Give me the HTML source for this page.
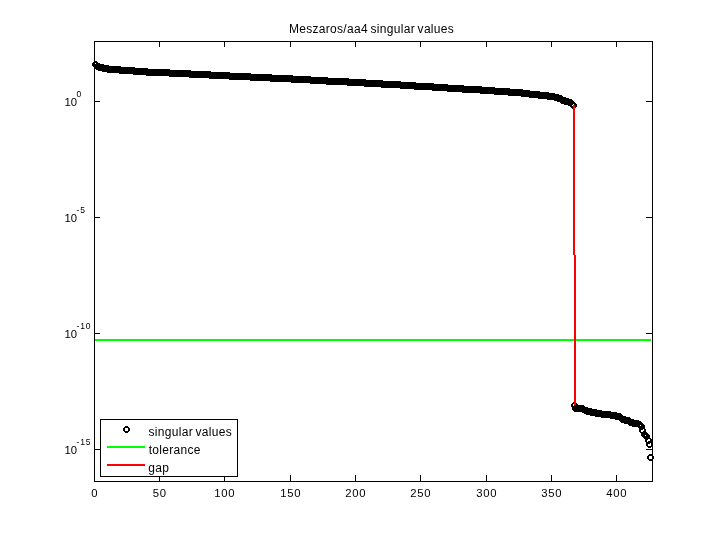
<!DOCTYPE html>
<html><head><meta charset="utf-8"><title>Meszaros/aa4 singular values</title>
<style>
html,body{margin:0;padding:0;background:#fff}
svg{display:block}
text{font-family:"Liberation Sans",Arial,Helvetica,sans-serif;font-size:12px;fill:#000;letter-spacing:0.3px}
text.ex{font-size:8.5px;letter-spacing:0.9px}
text.tk{font-size:11.3px;letter-spacing:0.7px}
.ax rect{fill:#000;shape-rendering:crispEdges}
.mk path{fill:#000;fill-rule:nonzero;shape-rendering:crispEdges}
</style></head><body>
<svg width="720" height="540" viewBox="0 0 720 540">
<rect x="0" y="0" width="720" height="540" fill="#fff"/>
<g class="ax">
<rect x="94" y="41" width="559" height="1"/><rect x="94" y="481" width="559" height="1"/>
<rect x="94" y="41" width="1" height="441"/><rect x="652" y="41" width="1" height="441"/>
<rect x="94" y="475" width="1" height="6"/><rect x="94" y="42" width="1" height="5"/><rect x="159" y="475" width="1" height="6"/><rect x="159" y="42" width="1" height="5"/><rect x="224" y="475" width="1" height="6"/><rect x="224" y="42" width="1" height="5"/><rect x="290" y="475" width="1" height="6"/><rect x="290" y="42" width="1" height="5"/><rect x="355" y="475" width="1" height="6"/><rect x="355" y="42" width="1" height="5"/><rect x="420" y="475" width="1" height="6"/><rect x="420" y="42" width="1" height="5"/><rect x="486" y="475" width="1" height="6"/><rect x="486" y="42" width="1" height="5"/><rect x="551" y="475" width="1" height="6"/><rect x="551" y="42" width="1" height="5"/><rect x="616" y="475" width="1" height="6"/><rect x="616" y="42" width="1" height="5"/><rect x="95" y="101" width="5" height="1"/><rect x="646" y="101" width="6" height="1"/><rect x="95" y="217" width="5" height="1"/><rect x="646" y="217" width="6" height="1"/><rect x="95" y="333" width="5" height="1"/><rect x="646" y="333" width="6" height="1"/><rect x="95" y="449" width="5" height="1"/><rect x="646" y="449" width="6" height="1"/>
</g>
<g class="mk"><path d="M94 61h3v1h1v1h1v3h-1v1h-1v1h-3v-1h-1v-1h-1v-3h1v-1h1zM94 63v3h3v-3zM96 63h3v1h1v1h1v3h-1v1h-1v1h-3v-1h-1v-1h-1v-3h1v-1h1zM96 65v3h3v-3zM97 63h3v1h1v1h1v3h-1v1h-1v1h-3v-1h-1v-1h-1v-3h1v-1h1zM97 65v3h3v-3zM98 64h3v1h1v1h1v3h-1v1h-1v1h-3v-1h-1v-1h-1v-3h1v-1h1zM98 66v3h3v-3zM99 64h3v1h1v1h1v3h-1v1h-1v1h-3v-1h-1v-1h-1v-3h1v-1h1zM99 66v3h3v-3zM101 64h3v1h1v1h1v3h-1v1h-1v1h-3v-1h-1v-1h-1v-3h1v-1h1zM101 66v3h3v-3zM102 65h3v1h1v1h1v3h-1v1h-1v1h-3v-1h-1v-1h-1v-3h1v-1h1zM102 67v3h3v-3zM103 65h3v1h1v1h1v3h-1v1h-1v1h-3v-1h-1v-1h-1v-3h1v-1h1zM103 67v3h3v-3zM105 65h3v1h1v1h1v3h-1v1h-1v1h-3v-1h-1v-1h-1v-3h1v-1h1zM105 67v3h3v-3zM106 65h3v1h1v1h1v3h-1v1h-1v1h-3v-1h-1v-1h-1v-3h1v-1h1zM106 67v3h3v-3zM107 66h3v1h1v1h1v3h-1v1h-1v1h-3v-1h-1v-1h-1v-3h1v-1h1zM107 68v3h3v-3zM109 66h3v1h1v1h1v3h-1v1h-1v1h-3v-1h-1v-1h-1v-3h1v-1h1zM109 68v3h3v-3zM110 66h3v1h1v1h1v3h-1v1h-1v1h-3v-1h-1v-1h-1v-3h1v-1h1zM110 68v3h3v-3zM111 66h3v1h1v1h1v3h-1v1h-1v1h-3v-1h-1v-1h-1v-3h1v-1h1zM111 68v3h3v-3zM112 66h3v1h1v1h1v3h-1v1h-1v1h-3v-1h-1v-1h-1v-3h1v-1h1zM112 68v3h3v-3zM114 66h3v1h1v1h1v3h-1v1h-1v1h-3v-1h-1v-1h-1v-3h1v-1h1zM114 68v3h3v-3zM115 66h3v1h1v1h1v3h-1v1h-1v1h-3v-1h-1v-1h-1v-3h1v-1h1zM115 68v3h3v-3zM116 66h3v1h1v1h1v3h-1v1h-1v1h-3v-1h-1v-1h-1v-3h1v-1h1zM116 68v3h3v-3zM118 66h3v1h1v1h1v3h-1v1h-1v1h-3v-1h-1v-1h-1v-3h1v-1h1zM118 68v3h3v-3zM119 67h3v1h1v1h1v3h-1v1h-1v1h-3v-1h-1v-1h-1v-3h1v-1h1zM119 69v3h3v-3zM120 67h3v1h1v1h1v3h-1v1h-1v1h-3v-1h-1v-1h-1v-3h1v-1h1zM120 69v3h3v-3zM122 67h3v1h1v1h1v3h-1v1h-1v1h-3v-1h-1v-1h-1v-3h1v-1h1zM122 69v3h3v-3zM123 67h3v1h1v1h1v3h-1v1h-1v1h-3v-1h-1v-1h-1v-3h1v-1h1zM123 69v3h3v-3zM124 67h3v1h1v1h1v3h-1v1h-1v1h-3v-1h-1v-1h-1v-3h1v-1h1zM124 69v3h3v-3zM126 67h3v1h1v1h1v3h-1v1h-1v1h-3v-1h-1v-1h-1v-3h1v-1h1zM126 69v3h3v-3zM127 67h3v1h1v1h1v3h-1v1h-1v1h-3v-1h-1v-1h-1v-3h1v-1h1zM127 69v3h3v-3zM128 67h3v1h1v1h1v3h-1v1h-1v1h-3v-1h-1v-1h-1v-3h1v-1h1zM128 69v3h3v-3zM129 67h3v1h1v1h1v3h-1v1h-1v1h-3v-1h-1v-1h-1v-3h1v-1h1zM129 69v3h3v-3zM131 67h3v1h1v1h1v3h-1v1h-1v1h-3v-1h-1v-1h-1v-3h1v-1h1zM131 69v3h3v-3zM132 67h3v1h1v1h1v3h-1v1h-1v1h-3v-1h-1v-1h-1v-3h1v-1h1zM132 69v3h3v-3zM133 68h3v1h1v1h1v3h-1v1h-1v1h-3v-1h-1v-1h-1v-3h1v-1h1zM133 70v3h3v-3zM135 68h3v1h1v1h1v3h-1v1h-1v1h-3v-1h-1v-1h-1v-3h1v-1h1zM135 70v3h3v-3zM136 68h3v1h1v1h1v3h-1v1h-1v1h-3v-1h-1v-1h-1v-3h1v-1h1zM136 70v3h3v-3zM137 68h3v1h1v1h1v3h-1v1h-1v1h-3v-1h-1v-1h-1v-3h1v-1h1zM137 70v3h3v-3zM139 68h3v1h1v1h1v3h-1v1h-1v1h-3v-1h-1v-1h-1v-3h1v-1h1zM139 70v3h3v-3zM140 68h3v1h1v1h1v3h-1v1h-1v1h-3v-1h-1v-1h-1v-3h1v-1h1zM140 70v3h3v-3zM141 68h3v1h1v1h1v3h-1v1h-1v1h-3v-1h-1v-1h-1v-3h1v-1h1zM141 70v3h3v-3zM142 68h3v1h1v1h1v3h-1v1h-1v1h-3v-1h-1v-1h-1v-3h1v-1h1zM142 70v3h3v-3zM144 68h3v1h1v1h1v3h-1v1h-1v1h-3v-1h-1v-1h-1v-3h1v-1h1zM144 70v3h3v-3zM145 68h3v1h1v1h1v3h-1v1h-1v1h-3v-1h-1v-1h-1v-3h1v-1h1zM145 70v3h3v-3zM146 69h3v1h1v1h1v3h-1v1h-1v1h-3v-1h-1v-1h-1v-3h1v-1h1zM146 71v3h3v-3zM148 69h3v1h1v1h1v3h-1v1h-1v1h-3v-1h-1v-1h-1v-3h1v-1h1zM148 71v3h3v-3zM149 69h3v1h1v1h1v3h-1v1h-1v1h-3v-1h-1v-1h-1v-3h1v-1h1zM149 71v3h3v-3zM150 69h3v1h1v1h1v3h-1v1h-1v1h-3v-1h-1v-1h-1v-3h1v-1h1zM150 71v3h3v-3zM152 69h3v1h1v1h1v3h-1v1h-1v1h-3v-1h-1v-1h-1v-3h1v-1h1zM152 71v3h3v-3zM153 69h3v1h1v1h1v3h-1v1h-1v1h-3v-1h-1v-1h-1v-3h1v-1h1zM153 71v3h3v-3zM154 69h3v1h1v1h1v3h-1v1h-1v1h-3v-1h-1v-1h-1v-3h1v-1h1zM154 71v3h3v-3zM156 69h3v1h1v1h1v3h-1v1h-1v1h-3v-1h-1v-1h-1v-3h1v-1h1zM156 71v3h3v-3zM157 69h3v1h1v1h1v3h-1v1h-1v1h-3v-1h-1v-1h-1v-3h1v-1h1zM157 71v3h3v-3zM158 69h3v1h1v1h1v3h-1v1h-1v1h-3v-1h-1v-1h-1v-3h1v-1h1zM158 71v3h3v-3zM159 69h3v1h1v1h1v3h-1v1h-1v1h-3v-1h-1v-1h-1v-3h1v-1h1zM159 71v3h3v-3zM161 69h3v1h1v1h1v3h-1v1h-1v1h-3v-1h-1v-1h-1v-3h1v-1h1zM161 71v3h3v-3zM162 69h3v1h1v1h1v3h-1v1h-1v1h-3v-1h-1v-1h-1v-3h1v-1h1zM162 71v3h3v-3zM163 69h3v1h1v1h1v3h-1v1h-1v1h-3v-1h-1v-1h-1v-3h1v-1h1zM163 71v3h3v-3zM165 69h3v1h1v1h1v3h-1v1h-1v1h-3v-1h-1v-1h-1v-3h1v-1h1zM165 71v3h3v-3zM166 69h3v1h1v1h1v3h-1v1h-1v1h-3v-1h-1v-1h-1v-3h1v-1h1zM166 71v3h3v-3zM167 69h3v1h1v1h1v3h-1v1h-1v1h-3v-1h-1v-1h-1v-3h1v-1h1zM167 71v3h3v-3zM169 70h3v1h1v1h1v3h-1v1h-1v1h-3v-1h-1v-1h-1v-3h1v-1h1zM169 72v3h3v-3zM170 70h3v1h1v1h1v3h-1v1h-1v1h-3v-1h-1v-1h-1v-3h1v-1h1zM170 72v3h3v-3zM171 70h3v1h1v1h1v3h-1v1h-1v1h-3v-1h-1v-1h-1v-3h1v-1h1zM171 72v3h3v-3zM173 70h3v1h1v1h1v3h-1v1h-1v1h-3v-1h-1v-1h-1v-3h1v-1h1zM173 72v3h3v-3zM174 70h3v1h1v1h1v3h-1v1h-1v1h-3v-1h-1v-1h-1v-3h1v-1h1zM174 72v3h3v-3zM175 70h3v1h1v1h1v3h-1v1h-1v1h-3v-1h-1v-1h-1v-3h1v-1h1zM175 72v3h3v-3zM176 70h3v1h1v1h1v3h-1v1h-1v1h-3v-1h-1v-1h-1v-3h1v-1h1zM176 72v3h3v-3zM178 70h3v1h1v1h1v3h-1v1h-1v1h-3v-1h-1v-1h-1v-3h1v-1h1zM178 72v3h3v-3zM179 70h3v1h1v1h1v3h-1v1h-1v1h-3v-1h-1v-1h-1v-3h1v-1h1zM179 72v3h3v-3zM180 70h3v1h1v1h1v3h-1v1h-1v1h-3v-1h-1v-1h-1v-3h1v-1h1zM180 72v3h3v-3zM182 70h3v1h1v1h1v3h-1v1h-1v1h-3v-1h-1v-1h-1v-3h1v-1h1zM182 72v3h3v-3zM183 70h3v1h1v1h1v3h-1v1h-1v1h-3v-1h-1v-1h-1v-3h1v-1h1zM183 72v3h3v-3zM184 70h3v1h1v1h1v3h-1v1h-1v1h-3v-1h-1v-1h-1v-3h1v-1h1zM184 72v3h3v-3zM186 70h3v1h1v1h1v3h-1v1h-1v1h-3v-1h-1v-1h-1v-3h1v-1h1zM186 72v3h3v-3zM187 70h3v1h1v1h1v3h-1v1h-1v1h-3v-1h-1v-1h-1v-3h1v-1h1zM187 72v3h3v-3zM188 70h3v1h1v1h1v3h-1v1h-1v1h-3v-1h-1v-1h-1v-3h1v-1h1zM188 72v3h3v-3zM189 71h3v1h1v1h1v3h-1v1h-1v1h-3v-1h-1v-1h-1v-3h1v-1h1zM189 73v3h3v-3zM191 71h3v1h1v1h1v3h-1v1h-1v1h-3v-1h-1v-1h-1v-3h1v-1h1zM191 73v3h3v-3zM192 71h3v1h1v1h1v3h-1v1h-1v1h-3v-1h-1v-1h-1v-3h1v-1h1zM192 73v3h3v-3zM193 71h3v1h1v1h1v3h-1v1h-1v1h-3v-1h-1v-1h-1v-3h1v-1h1zM193 73v3h3v-3zM195 71h3v1h1v1h1v3h-1v1h-1v1h-3v-1h-1v-1h-1v-3h1v-1h1zM195 73v3h3v-3zM196 71h3v1h1v1h1v3h-1v1h-1v1h-3v-1h-1v-1h-1v-3h1v-1h1zM196 73v3h3v-3zM197 71h3v1h1v1h1v3h-1v1h-1v1h-3v-1h-1v-1h-1v-3h1v-1h1zM197 73v3h3v-3zM199 71h3v1h1v1h1v3h-1v1h-1v1h-3v-1h-1v-1h-1v-3h1v-1h1zM199 73v3h3v-3zM200 71h3v1h1v1h1v3h-1v1h-1v1h-3v-1h-1v-1h-1v-3h1v-1h1zM200 73v3h3v-3zM201 71h3v1h1v1h1v3h-1v1h-1v1h-3v-1h-1v-1h-1v-3h1v-1h1zM201 73v3h3v-3zM203 71h3v1h1v1h1v3h-1v1h-1v1h-3v-1h-1v-1h-1v-3h1v-1h1zM203 73v3h3v-3zM204 71h3v1h1v1h1v3h-1v1h-1v1h-3v-1h-1v-1h-1v-3h1v-1h1zM204 73v3h3v-3zM205 71h3v1h1v1h1v3h-1v1h-1v1h-3v-1h-1v-1h-1v-3h1v-1h1zM205 73v3h3v-3zM206 71h3v1h1v1h1v3h-1v1h-1v1h-3v-1h-1v-1h-1v-3h1v-1h1zM206 73v3h3v-3zM208 71h3v1h1v1h1v3h-1v1h-1v1h-3v-1h-1v-1h-1v-3h1v-1h1zM208 73v3h3v-3zM209 72h3v1h1v1h1v3h-1v1h-1v1h-3v-1h-1v-1h-1v-3h1v-1h1zM209 74v3h3v-3zM210 72h3v1h1v1h1v3h-1v1h-1v1h-3v-1h-1v-1h-1v-3h1v-1h1zM210 74v3h3v-3zM212 72h3v1h1v1h1v3h-1v1h-1v1h-3v-1h-1v-1h-1v-3h1v-1h1zM212 74v3h3v-3zM213 72h3v1h1v1h1v3h-1v1h-1v1h-3v-1h-1v-1h-1v-3h1v-1h1zM213 74v3h3v-3zM214 72h3v1h1v1h1v3h-1v1h-1v1h-3v-1h-1v-1h-1v-3h1v-1h1zM214 74v3h3v-3zM216 72h3v1h1v1h1v3h-1v1h-1v1h-3v-1h-1v-1h-1v-3h1v-1h1zM216 74v3h3v-3zM217 72h3v1h1v1h1v3h-1v1h-1v1h-3v-1h-1v-1h-1v-3h1v-1h1zM217 74v3h3v-3zM218 72h3v1h1v1h1v3h-1v1h-1v1h-3v-1h-1v-1h-1v-3h1v-1h1zM218 74v3h3v-3zM219 72h3v1h1v1h1v3h-1v1h-1v1h-3v-1h-1v-1h-1v-3h1v-1h1zM219 74v3h3v-3zM221 72h3v1h1v1h1v3h-1v1h-1v1h-3v-1h-1v-1h-1v-3h1v-1h1zM221 74v3h3v-3zM222 72h3v1h1v1h1v3h-1v1h-1v1h-3v-1h-1v-1h-1v-3h1v-1h1zM222 74v3h3v-3zM223 72h3v1h1v1h1v3h-1v1h-1v1h-3v-1h-1v-1h-1v-3h1v-1h1zM223 74v3h3v-3zM225 72h3v1h1v1h1v3h-1v1h-1v1h-3v-1h-1v-1h-1v-3h1v-1h1zM225 74v3h3v-3zM226 72h3v1h1v1h1v3h-1v1h-1v1h-3v-1h-1v-1h-1v-3h1v-1h1zM226 74v3h3v-3zM227 72h3v1h1v1h1v3h-1v1h-1v1h-3v-1h-1v-1h-1v-3h1v-1h1zM227 74v3h3v-3zM229 73h3v1h1v1h1v3h-1v1h-1v1h-3v-1h-1v-1h-1v-3h1v-1h1zM229 75v3h3v-3zM230 73h3v1h1v1h1v3h-1v1h-1v1h-3v-1h-1v-1h-1v-3h1v-1h1zM230 75v3h3v-3zM231 73h3v1h1v1h1v3h-1v1h-1v1h-3v-1h-1v-1h-1v-3h1v-1h1zM231 75v3h3v-3zM233 73h3v1h1v1h1v3h-1v1h-1v1h-3v-1h-1v-1h-1v-3h1v-1h1zM233 75v3h3v-3zM234 73h3v1h1v1h1v3h-1v1h-1v1h-3v-1h-1v-1h-1v-3h1v-1h1zM234 75v3h3v-3zM235 73h3v1h1v1h1v3h-1v1h-1v1h-3v-1h-1v-1h-1v-3h1v-1h1zM235 75v3h3v-3zM236 73h3v1h1v1h1v3h-1v1h-1v1h-3v-1h-1v-1h-1v-3h1v-1h1zM236 75v3h3v-3zM238 73h3v1h1v1h1v3h-1v1h-1v1h-3v-1h-1v-1h-1v-3h1v-1h1zM238 75v3h3v-3zM239 73h3v1h1v1h1v3h-1v1h-1v1h-3v-1h-1v-1h-1v-3h1v-1h1zM239 75v3h3v-3zM240 73h3v1h1v1h1v3h-1v1h-1v1h-3v-1h-1v-1h-1v-3h1v-1h1zM240 75v3h3v-3zM242 73h3v1h1v1h1v3h-1v1h-1v1h-3v-1h-1v-1h-1v-3h1v-1h1zM242 75v3h3v-3zM243 73h3v1h1v1h1v3h-1v1h-1v1h-3v-1h-1v-1h-1v-3h1v-1h1zM243 75v3h3v-3zM244 73h3v1h1v1h1v3h-1v1h-1v1h-3v-1h-1v-1h-1v-3h1v-1h1zM244 75v3h3v-3zM246 73h3v1h1v1h1v3h-1v1h-1v1h-3v-1h-1v-1h-1v-3h1v-1h1zM246 75v3h3v-3zM247 73h3v1h1v1h1v3h-1v1h-1v1h-3v-1h-1v-1h-1v-3h1v-1h1zM247 75v3h3v-3zM248 73h3v1h1v1h1v3h-1v1h-1v1h-3v-1h-1v-1h-1v-3h1v-1h1zM248 75v3h3v-3zM250 74h3v1h1v1h1v3h-1v1h-1v1h-3v-1h-1v-1h-1v-3h1v-1h1zM250 76v3h3v-3zM251 74h3v1h1v1h1v3h-1v1h-1v1h-3v-1h-1v-1h-1v-3h1v-1h1zM251 76v3h3v-3zM252 74h3v1h1v1h1v3h-1v1h-1v1h-3v-1h-1v-1h-1v-3h1v-1h1zM252 76v3h3v-3zM253 74h3v1h1v1h1v3h-1v1h-1v1h-3v-1h-1v-1h-1v-3h1v-1h1zM253 76v3h3v-3zM255 74h3v1h1v1h1v3h-1v1h-1v1h-3v-1h-1v-1h-1v-3h1v-1h1zM255 76v3h3v-3zM256 74h3v1h1v1h1v3h-1v1h-1v1h-3v-1h-1v-1h-1v-3h1v-1h1zM256 76v3h3v-3zM257 74h3v1h1v1h1v3h-1v1h-1v1h-3v-1h-1v-1h-1v-3h1v-1h1zM257 76v3h3v-3zM259 74h3v1h1v1h1v3h-1v1h-1v1h-3v-1h-1v-1h-1v-3h1v-1h1zM259 76v3h3v-3zM260 74h3v1h1v1h1v3h-1v1h-1v1h-3v-1h-1v-1h-1v-3h1v-1h1zM260 76v3h3v-3zM261 74h3v1h1v1h1v3h-1v1h-1v1h-3v-1h-1v-1h-1v-3h1v-1h1zM261 76v3h3v-3zM263 74h3v1h1v1h1v3h-1v1h-1v1h-3v-1h-1v-1h-1v-3h1v-1h1zM263 76v3h3v-3zM264 74h3v1h1v1h1v3h-1v1h-1v1h-3v-1h-1v-1h-1v-3h1v-1h1zM264 76v3h3v-3zM265 74h3v1h1v1h1v3h-1v1h-1v1h-3v-1h-1v-1h-1v-3h1v-1h1zM265 76v3h3v-3zM266 74h3v1h1v1h1v3h-1v1h-1v1h-3v-1h-1v-1h-1v-3h1v-1h1zM266 76v3h3v-3zM268 74h3v1h1v1h1v3h-1v1h-1v1h-3v-1h-1v-1h-1v-3h1v-1h1zM268 76v3h3v-3zM269 74h3v1h1v1h1v3h-1v1h-1v1h-3v-1h-1v-1h-1v-3h1v-1h1zM269 76v3h3v-3zM270 75h3v1h1v1h1v3h-1v1h-1v1h-3v-1h-1v-1h-1v-3h1v-1h1zM270 77v3h3v-3zM272 75h3v1h1v1h1v3h-1v1h-1v1h-3v-1h-1v-1h-1v-3h1v-1h1zM272 77v3h3v-3zM273 75h3v1h1v1h1v3h-1v1h-1v1h-3v-1h-1v-1h-1v-3h1v-1h1zM273 77v3h3v-3zM274 75h3v1h1v1h1v3h-1v1h-1v1h-3v-1h-1v-1h-1v-3h1v-1h1zM274 77v3h3v-3zM276 75h3v1h1v1h1v3h-1v1h-1v1h-3v-1h-1v-1h-1v-3h1v-1h1zM276 77v3h3v-3zM277 75h3v1h1v1h1v3h-1v1h-1v1h-3v-1h-1v-1h-1v-3h1v-1h1zM277 77v3h3v-3zM278 75h3v1h1v1h1v3h-1v1h-1v1h-3v-1h-1v-1h-1v-3h1v-1h1zM278 77v3h3v-3zM280 75h3v1h1v1h1v3h-1v1h-1v1h-3v-1h-1v-1h-1v-3h1v-1h1zM280 77v3h3v-3zM281 75h3v1h1v1h1v3h-1v1h-1v1h-3v-1h-1v-1h-1v-3h1v-1h1zM281 77v3h3v-3zM282 75h3v1h1v1h1v3h-1v1h-1v1h-3v-1h-1v-1h-1v-3h1v-1h1zM282 77v3h3v-3zM283 75h3v1h1v1h1v3h-1v1h-1v1h-3v-1h-1v-1h-1v-3h1v-1h1zM283 77v3h3v-3zM285 75h3v1h1v1h1v3h-1v1h-1v1h-3v-1h-1v-1h-1v-3h1v-1h1zM285 77v3h3v-3zM286 75h3v1h1v1h1v3h-1v1h-1v1h-3v-1h-1v-1h-1v-3h1v-1h1zM286 77v3h3v-3zM287 75h3v1h1v1h1v3h-1v1h-1v1h-3v-1h-1v-1h-1v-3h1v-1h1zM287 77v3h3v-3zM289 75h3v1h1v1h1v3h-1v1h-1v1h-3v-1h-1v-1h-1v-3h1v-1h1zM289 77v3h3v-3zM290 75h3v1h1v1h1v3h-1v1h-1v1h-3v-1h-1v-1h-1v-3h1v-1h1zM290 77v3h3v-3zM291 76h3v1h1v1h1v3h-1v1h-1v1h-3v-1h-1v-1h-1v-3h1v-1h1zM291 78v3h3v-3zM293 76h3v1h1v1h1v3h-1v1h-1v1h-3v-1h-1v-1h-1v-3h1v-1h1zM293 78v3h3v-3zM294 76h3v1h1v1h1v3h-1v1h-1v1h-3v-1h-1v-1h-1v-3h1v-1h1zM294 78v3h3v-3zM295 76h3v1h1v1h1v3h-1v1h-1v1h-3v-1h-1v-1h-1v-3h1v-1h1zM295 78v3h3v-3zM296 76h3v1h1v1h1v3h-1v1h-1v1h-3v-1h-1v-1h-1v-3h1v-1h1zM296 78v3h3v-3zM298 76h3v1h1v1h1v3h-1v1h-1v1h-3v-1h-1v-1h-1v-3h1v-1h1zM298 78v3h3v-3zM299 76h3v1h1v1h1v3h-1v1h-1v1h-3v-1h-1v-1h-1v-3h1v-1h1zM299 78v3h3v-3zM300 76h3v1h1v1h1v3h-1v1h-1v1h-3v-1h-1v-1h-1v-3h1v-1h1zM300 78v3h3v-3zM302 76h3v1h1v1h1v3h-1v1h-1v1h-3v-1h-1v-1h-1v-3h1v-1h1zM302 78v3h3v-3zM303 76h3v1h1v1h1v3h-1v1h-1v1h-3v-1h-1v-1h-1v-3h1v-1h1zM303 78v3h3v-3zM304 76h3v1h1v1h1v3h-1v1h-1v1h-3v-1h-1v-1h-1v-3h1v-1h1zM304 78v3h3v-3zM306 76h3v1h1v1h1v3h-1v1h-1v1h-3v-1h-1v-1h-1v-3h1v-1h1zM306 78v3h3v-3zM307 76h3v1h1v1h1v3h-1v1h-1v1h-3v-1h-1v-1h-1v-3h1v-1h1zM307 78v3h3v-3zM308 76h3v1h1v1h1v3h-1v1h-1v1h-3v-1h-1v-1h-1v-3h1v-1h1zM308 78v3h3v-3zM310 77h3v1h1v1h1v3h-1v1h-1v1h-3v-1h-1v-1h-1v-3h1v-1h1zM310 79v3h3v-3zM311 77h3v1h1v1h1v3h-1v1h-1v1h-3v-1h-1v-1h-1v-3h1v-1h1zM311 79v3h3v-3zM312 77h3v1h1v1h1v3h-1v1h-1v1h-3v-1h-1v-1h-1v-3h1v-1h1zM312 79v3h3v-3zM313 77h3v1h1v1h1v3h-1v1h-1v1h-3v-1h-1v-1h-1v-3h1v-1h1zM313 79v3h3v-3zM315 77h3v1h1v1h1v3h-1v1h-1v1h-3v-1h-1v-1h-1v-3h1v-1h1zM315 79v3h3v-3zM316 77h3v1h1v1h1v3h-1v1h-1v1h-3v-1h-1v-1h-1v-3h1v-1h1zM316 79v3h3v-3zM317 77h3v1h1v1h1v3h-1v1h-1v1h-3v-1h-1v-1h-1v-3h1v-1h1zM317 79v3h3v-3zM319 77h3v1h1v1h1v3h-1v1h-1v1h-3v-1h-1v-1h-1v-3h1v-1h1zM319 79v3h3v-3zM320 77h3v1h1v1h1v3h-1v1h-1v1h-3v-1h-1v-1h-1v-3h1v-1h1zM320 79v3h3v-3zM321 77h3v1h1v1h1v3h-1v1h-1v1h-3v-1h-1v-1h-1v-3h1v-1h1zM321 79v3h3v-3zM323 77h3v1h1v1h1v3h-1v1h-1v1h-3v-1h-1v-1h-1v-3h1v-1h1zM323 79v3h3v-3zM324 77h3v1h1v1h1v3h-1v1h-1v1h-3v-1h-1v-1h-1v-3h1v-1h1zM324 79v3h3v-3zM325 77h3v1h1v1h1v3h-1v1h-1v1h-3v-1h-1v-1h-1v-3h1v-1h1zM325 79v3h3v-3zM326 78h3v1h1v1h1v3h-1v1h-1v1h-3v-1h-1v-1h-1v-3h1v-1h1zM326 80v3h3v-3zM328 78h3v1h1v1h1v3h-1v1h-1v1h-3v-1h-1v-1h-1v-3h1v-1h1zM328 80v3h3v-3zM329 78h3v1h1v1h1v3h-1v1h-1v1h-3v-1h-1v-1h-1v-3h1v-1h1zM329 80v3h3v-3zM330 78h3v1h1v1h1v3h-1v1h-1v1h-3v-1h-1v-1h-1v-3h1v-1h1zM330 80v3h3v-3zM332 78h3v1h1v1h1v3h-1v1h-1v1h-3v-1h-1v-1h-1v-3h1v-1h1zM332 80v3h3v-3zM333 78h3v1h1v1h1v3h-1v1h-1v1h-3v-1h-1v-1h-1v-3h1v-1h1zM333 80v3h3v-3zM334 78h3v1h1v1h1v3h-1v1h-1v1h-3v-1h-1v-1h-1v-3h1v-1h1zM334 80v3h3v-3zM336 78h3v1h1v1h1v3h-1v1h-1v1h-3v-1h-1v-1h-1v-3h1v-1h1zM336 80v3h3v-3zM337 78h3v1h1v1h1v3h-1v1h-1v1h-3v-1h-1v-1h-1v-3h1v-1h1zM337 80v3h3v-3zM338 78h3v1h1v1h1v3h-1v1h-1v1h-3v-1h-1v-1h-1v-3h1v-1h1zM338 80v3h3v-3zM340 78h3v1h1v1h1v3h-1v1h-1v1h-3v-1h-1v-1h-1v-3h1v-1h1zM340 80v3h3v-3zM341 78h3v1h1v1h1v3h-1v1h-1v1h-3v-1h-1v-1h-1v-3h1v-1h1zM341 80v3h3v-3zM342 78h3v1h1v1h1v3h-1v1h-1v1h-3v-1h-1v-1h-1v-3h1v-1h1zM342 80v3h3v-3zM343 78h3v1h1v1h1v3h-1v1h-1v1h-3v-1h-1v-1h-1v-3h1v-1h1zM343 80v3h3v-3zM345 78h3v1h1v1h1v3h-1v1h-1v1h-3v-1h-1v-1h-1v-3h1v-1h1zM345 80v3h3v-3zM346 78h3v1h1v1h1v3h-1v1h-1v1h-3v-1h-1v-1h-1v-3h1v-1h1zM346 80v3h3v-3zM347 79h3v1h1v1h1v3h-1v1h-1v1h-3v-1h-1v-1h-1v-3h1v-1h1zM347 81v3h3v-3zM349 79h3v1h1v1h1v3h-1v1h-1v1h-3v-1h-1v-1h-1v-3h1v-1h1zM349 81v3h3v-3zM350 79h3v1h1v1h1v3h-1v1h-1v1h-3v-1h-1v-1h-1v-3h1v-1h1zM350 81v3h3v-3zM351 79h3v1h1v1h1v3h-1v1h-1v1h-3v-1h-1v-1h-1v-3h1v-1h1zM351 81v3h3v-3zM353 79h3v1h1v1h1v3h-1v1h-1v1h-3v-1h-1v-1h-1v-3h1v-1h1zM353 81v3h3v-3zM354 79h3v1h1v1h1v3h-1v1h-1v1h-3v-1h-1v-1h-1v-3h1v-1h1zM354 81v3h3v-3zM355 79h3v1h1v1h1v3h-1v1h-1v1h-3v-1h-1v-1h-1v-3h1v-1h1zM355 81v3h3v-3zM357 79h3v1h1v1h1v3h-1v1h-1v1h-3v-1h-1v-1h-1v-3h1v-1h1zM357 81v3h3v-3zM358 79h3v1h1v1h1v3h-1v1h-1v1h-3v-1h-1v-1h-1v-3h1v-1h1zM358 81v3h3v-3zM359 79h3v1h1v1h1v3h-1v1h-1v1h-3v-1h-1v-1h-1v-3h1v-1h1zM359 81v3h3v-3zM360 79h3v1h1v1h1v3h-1v1h-1v1h-3v-1h-1v-1h-1v-3h1v-1h1zM360 81v3h3v-3zM362 79h3v1h1v1h1v3h-1v1h-1v1h-3v-1h-1v-1h-1v-3h1v-1h1zM362 81v3h3v-3zM363 79h3v1h1v1h1v3h-1v1h-1v1h-3v-1h-1v-1h-1v-3h1v-1h1zM363 81v3h3v-3zM364 80h3v1h1v1h1v3h-1v1h-1v1h-3v-1h-1v-1h-1v-3h1v-1h1zM364 82v3h3v-3zM366 80h3v1h1v1h1v3h-1v1h-1v1h-3v-1h-1v-1h-1v-3h1v-1h1zM366 82v3h3v-3zM367 80h3v1h1v1h1v3h-1v1h-1v1h-3v-1h-1v-1h-1v-3h1v-1h1zM367 82v3h3v-3zM368 80h3v1h1v1h1v3h-1v1h-1v1h-3v-1h-1v-1h-1v-3h1v-1h1zM368 82v3h3v-3zM370 80h3v1h1v1h1v3h-1v1h-1v1h-3v-1h-1v-1h-1v-3h1v-1h1zM370 82v3h3v-3zM371 80h3v1h1v1h1v3h-1v1h-1v1h-3v-1h-1v-1h-1v-3h1v-1h1zM371 82v3h3v-3zM372 80h3v1h1v1h1v3h-1v1h-1v1h-3v-1h-1v-1h-1v-3h1v-1h1zM372 82v3h3v-3zM373 80h3v1h1v1h1v3h-1v1h-1v1h-3v-1h-1v-1h-1v-3h1v-1h1zM373 82v3h3v-3zM375 80h3v1h1v1h1v3h-1v1h-1v1h-3v-1h-1v-1h-1v-3h1v-1h1zM375 82v3h3v-3zM376 80h3v1h1v1h1v3h-1v1h-1v1h-3v-1h-1v-1h-1v-3h1v-1h1zM376 82v3h3v-3zM377 80h3v1h1v1h1v3h-1v1h-1v1h-3v-1h-1v-1h-1v-3h1v-1h1zM377 82v3h3v-3zM379 80h3v1h1v1h1v3h-1v1h-1v1h-3v-1h-1v-1h-1v-3h1v-1h1zM379 82v3h3v-3zM380 80h3v1h1v1h1v3h-1v1h-1v1h-3v-1h-1v-1h-1v-3h1v-1h1zM380 82v3h3v-3zM381 81h3v1h1v1h1v3h-1v1h-1v1h-3v-1h-1v-1h-1v-3h1v-1h1zM381 83v3h3v-3zM383 81h3v1h1v1h1v3h-1v1h-1v1h-3v-1h-1v-1h-1v-3h1v-1h1zM383 83v3h3v-3zM384 81h3v1h1v1h1v3h-1v1h-1v1h-3v-1h-1v-1h-1v-3h1v-1h1zM384 83v3h3v-3zM385 81h3v1h1v1h1v3h-1v1h-1v1h-3v-1h-1v-1h-1v-3h1v-1h1zM385 83v3h3v-3zM387 81h3v1h1v1h1v3h-1v1h-1v1h-3v-1h-1v-1h-1v-3h1v-1h1zM387 83v3h3v-3zM388 81h3v1h1v1h1v3h-1v1h-1v1h-3v-1h-1v-1h-1v-3h1v-1h1zM388 83v3h3v-3zM389 81h3v1h1v1h1v3h-1v1h-1v1h-3v-1h-1v-1h-1v-3h1v-1h1zM389 83v3h3v-3zM390 81h3v1h1v1h1v3h-1v1h-1v1h-3v-1h-1v-1h-1v-3h1v-1h1zM390 83v3h3v-3zM392 81h3v1h1v1h1v3h-1v1h-1v1h-3v-1h-1v-1h-1v-3h1v-1h1zM392 83v3h3v-3zM393 81h3v1h1v1h1v3h-1v1h-1v1h-3v-1h-1v-1h-1v-3h1v-1h1zM393 83v3h3v-3zM394 81h3v1h1v1h1v3h-1v1h-1v1h-3v-1h-1v-1h-1v-3h1v-1h1zM394 83v3h3v-3zM396 81h3v1h1v1h1v3h-1v1h-1v1h-3v-1h-1v-1h-1v-3h1v-1h1zM396 83v3h3v-3zM397 81h3v1h1v1h1v3h-1v1h-1v1h-3v-1h-1v-1h-1v-3h1v-1h1zM397 83v3h3v-3zM398 81h3v1h1v1h1v3h-1v1h-1v1h-3v-1h-1v-1h-1v-3h1v-1h1zM398 83v3h3v-3zM400 82h3v1h1v1h1v3h-1v1h-1v1h-3v-1h-1v-1h-1v-3h1v-1h1zM400 84v3h3v-3zM401 82h3v1h1v1h1v3h-1v1h-1v1h-3v-1h-1v-1h-1v-3h1v-1h1zM401 84v3h3v-3zM402 82h3v1h1v1h1v3h-1v1h-1v1h-3v-1h-1v-1h-1v-3h1v-1h1zM402 84v3h3v-3zM403 82h3v1h1v1h1v3h-1v1h-1v1h-3v-1h-1v-1h-1v-3h1v-1h1zM403 84v3h3v-3zM405 82h3v1h1v1h1v3h-1v1h-1v1h-3v-1h-1v-1h-1v-3h1v-1h1zM405 84v3h3v-3zM406 82h3v1h1v1h1v3h-1v1h-1v1h-3v-1h-1v-1h-1v-3h1v-1h1zM406 84v3h3v-3zM407 82h3v1h1v1h1v3h-1v1h-1v1h-3v-1h-1v-1h-1v-3h1v-1h1zM407 84v3h3v-3zM409 82h3v1h1v1h1v3h-1v1h-1v1h-3v-1h-1v-1h-1v-3h1v-1h1zM409 84v3h3v-3zM410 82h3v1h1v1h1v3h-1v1h-1v1h-3v-1h-1v-1h-1v-3h1v-1h1zM410 84v3h3v-3zM411 82h3v1h1v1h1v3h-1v1h-1v1h-3v-1h-1v-1h-1v-3h1v-1h1zM411 84v3h3v-3zM413 82h3v1h1v1h1v3h-1v1h-1v1h-3v-1h-1v-1h-1v-3h1v-1h1zM413 84v3h3v-3zM414 83h3v1h1v1h1v3h-1v1h-1v1h-3v-1h-1v-1h-1v-3h1v-1h1zM414 85v3h3v-3zM415 83h3v1h1v1h1v3h-1v1h-1v1h-3v-1h-1v-1h-1v-3h1v-1h1zM415 85v3h3v-3zM417 83h3v1h1v1h1v3h-1v1h-1v1h-3v-1h-1v-1h-1v-3h1v-1h1zM417 85v3h3v-3zM418 83h3v1h1v1h1v3h-1v1h-1v1h-3v-1h-1v-1h-1v-3h1v-1h1zM418 85v3h3v-3zM419 83h3v1h1v1h1v3h-1v1h-1v1h-3v-1h-1v-1h-1v-3h1v-1h1zM419 85v3h3v-3zM420 83h3v1h1v1h1v3h-1v1h-1v1h-3v-1h-1v-1h-1v-3h1v-1h1zM420 85v3h3v-3zM422 83h3v1h1v1h1v3h-1v1h-1v1h-3v-1h-1v-1h-1v-3h1v-1h1zM422 85v3h3v-3zM423 83h3v1h1v1h1v3h-1v1h-1v1h-3v-1h-1v-1h-1v-3h1v-1h1zM423 85v3h3v-3zM424 83h3v1h1v1h1v3h-1v1h-1v1h-3v-1h-1v-1h-1v-3h1v-1h1zM424 85v3h3v-3zM426 83h3v1h1v1h1v3h-1v1h-1v1h-3v-1h-1v-1h-1v-3h1v-1h1zM426 85v3h3v-3zM427 83h3v1h1v1h1v3h-1v1h-1v1h-3v-1h-1v-1h-1v-3h1v-1h1zM427 85v3h3v-3zM428 83h3v1h1v1h1v3h-1v1h-1v1h-3v-1h-1v-1h-1v-3h1v-1h1zM428 85v3h3v-3zM430 83h3v1h1v1h1v3h-1v1h-1v1h-3v-1h-1v-1h-1v-3h1v-1h1zM430 85v3h3v-3zM431 83h3v1h1v1h1v3h-1v1h-1v1h-3v-1h-1v-1h-1v-3h1v-1h1zM431 85v3h3v-3zM432 84h3v1h1v1h1v3h-1v1h-1v1h-3v-1h-1v-1h-1v-3h1v-1h1zM432 86v3h3v-3zM434 84h3v1h1v1h1v3h-1v1h-1v1h-3v-1h-1v-1h-1v-3h1v-1h1zM434 86v3h3v-3zM435 84h3v1h1v1h1v3h-1v1h-1v1h-3v-1h-1v-1h-1v-3h1v-1h1zM435 86v3h3v-3zM436 84h3v1h1v1h1v3h-1v1h-1v1h-3v-1h-1v-1h-1v-3h1v-1h1zM436 86v3h3v-3zM437 84h3v1h1v1h1v3h-1v1h-1v1h-3v-1h-1v-1h-1v-3h1v-1h1zM437 86v3h3v-3zM439 84h3v1h1v1h1v3h-1v1h-1v1h-3v-1h-1v-1h-1v-3h1v-1h1zM439 86v3h3v-3zM440 84h3v1h1v1h1v3h-1v1h-1v1h-3v-1h-1v-1h-1v-3h1v-1h1zM440 86v3h3v-3zM441 84h3v1h1v1h1v3h-1v1h-1v1h-3v-1h-1v-1h-1v-3h1v-1h1zM441 86v3h3v-3zM443 84h3v1h1v1h1v3h-1v1h-1v1h-3v-1h-1v-1h-1v-3h1v-1h1zM443 86v3h3v-3zM444 84h3v1h1v1h1v3h-1v1h-1v1h-3v-1h-1v-1h-1v-3h1v-1h1zM444 86v3h3v-3zM445 84h3v1h1v1h1v3h-1v1h-1v1h-3v-1h-1v-1h-1v-3h1v-1h1zM445 86v3h3v-3zM447 85h3v1h1v1h1v3h-1v1h-1v1h-3v-1h-1v-1h-1v-3h1v-1h1zM447 87v3h3v-3zM448 85h3v1h1v1h1v3h-1v1h-1v1h-3v-1h-1v-1h-1v-3h1v-1h1zM448 87v3h3v-3zM449 85h3v1h1v1h1v3h-1v1h-1v1h-3v-1h-1v-1h-1v-3h1v-1h1zM449 87v3h3v-3zM450 85h3v1h1v1h1v3h-1v1h-1v1h-3v-1h-1v-1h-1v-3h1v-1h1zM450 87v3h3v-3zM452 85h3v1h1v1h1v3h-1v1h-1v1h-3v-1h-1v-1h-1v-3h1v-1h1zM452 87v3h3v-3zM453 85h3v1h1v1h1v3h-1v1h-1v1h-3v-1h-1v-1h-1v-3h1v-1h1zM453 87v3h3v-3zM454 85h3v1h1v1h1v3h-1v1h-1v1h-3v-1h-1v-1h-1v-3h1v-1h1zM454 87v3h3v-3zM456 85h3v1h1v1h1v3h-1v1h-1v1h-3v-1h-1v-1h-1v-3h1v-1h1zM456 87v3h3v-3zM457 85h3v1h1v1h1v3h-1v1h-1v1h-3v-1h-1v-1h-1v-3h1v-1h1zM457 87v3h3v-3zM458 85h3v1h1v1h1v3h-1v1h-1v1h-3v-1h-1v-1h-1v-3h1v-1h1zM458 87v3h3v-3zM460 85h3v1h1v1h1v3h-1v1h-1v1h-3v-1h-1v-1h-1v-3h1v-1h1zM460 87v3h3v-3zM461 85h3v1h1v1h1v3h-1v1h-1v1h-3v-1h-1v-1h-1v-3h1v-1h1zM461 87v3h3v-3zM462 86h3v1h1v1h1v3h-1v1h-1v1h-3v-1h-1v-1h-1v-3h1v-1h1zM462 88v3h3v-3zM464 86h3v1h1v1h1v3h-1v1h-1v1h-3v-1h-1v-1h-1v-3h1v-1h1zM464 88v3h3v-3zM465 86h3v1h1v1h1v3h-1v1h-1v1h-3v-1h-1v-1h-1v-3h1v-1h1zM465 88v3h3v-3zM466 86h3v1h1v1h1v3h-1v1h-1v1h-3v-1h-1v-1h-1v-3h1v-1h1zM466 88v3h3v-3zM467 86h3v1h1v1h1v3h-1v1h-1v1h-3v-1h-1v-1h-1v-3h1v-1h1zM467 88v3h3v-3zM469 86h3v1h1v1h1v3h-1v1h-1v1h-3v-1h-1v-1h-1v-3h1v-1h1zM469 88v3h3v-3zM470 86h3v1h1v1h1v3h-1v1h-1v1h-3v-1h-1v-1h-1v-3h1v-1h1zM470 88v3h3v-3zM471 86h3v1h1v1h1v3h-1v1h-1v1h-3v-1h-1v-1h-1v-3h1v-1h1zM471 88v3h3v-3zM473 86h3v1h1v1h1v3h-1v1h-1v1h-3v-1h-1v-1h-1v-3h1v-1h1zM473 88v3h3v-3zM474 86h3v1h1v1h1v3h-1v1h-1v1h-3v-1h-1v-1h-1v-3h1v-1h1zM474 88v3h3v-3zM475 86h3v1h1v1h1v3h-1v1h-1v1h-3v-1h-1v-1h-1v-3h1v-1h1zM475 88v3h3v-3zM477 86h3v1h1v1h1v3h-1v1h-1v1h-3v-1h-1v-1h-1v-3h1v-1h1zM477 88v3h3v-3zM478 86h3v1h1v1h1v3h-1v1h-1v1h-3v-1h-1v-1h-1v-3h1v-1h1zM478 88v3h3v-3zM479 86h3v1h1v1h1v3h-1v1h-1v1h-3v-1h-1v-1h-1v-3h1v-1h1zM479 88v3h3v-3zM480 87h3v1h1v1h1v3h-1v1h-1v1h-3v-1h-1v-1h-1v-3h1v-1h1zM480 89v3h3v-3zM482 87h3v1h1v1h1v3h-1v1h-1v1h-3v-1h-1v-1h-1v-3h1v-1h1zM482 89v3h3v-3zM483 87h3v1h1v1h1v3h-1v1h-1v1h-3v-1h-1v-1h-1v-3h1v-1h1zM483 89v3h3v-3zM484 87h3v1h1v1h1v3h-1v1h-1v1h-3v-1h-1v-1h-1v-3h1v-1h1zM484 89v3h3v-3zM486 87h3v1h1v1h1v3h-1v1h-1v1h-3v-1h-1v-1h-1v-3h1v-1h1zM486 89v3h3v-3zM487 87h3v1h1v1h1v3h-1v1h-1v1h-3v-1h-1v-1h-1v-3h1v-1h1zM487 89v3h3v-3zM488 87h3v1h1v1h1v3h-1v1h-1v1h-3v-1h-1v-1h-1v-3h1v-1h1zM488 89v3h3v-3zM490 87h3v1h1v1h1v3h-1v1h-1v1h-3v-1h-1v-1h-1v-3h1v-1h1zM490 89v3h3v-3zM491 87h3v1h1v1h1v3h-1v1h-1v1h-3v-1h-1v-1h-1v-3h1v-1h1zM491 89v3h3v-3zM492 87h3v1h1v1h1v3h-1v1h-1v1h-3v-1h-1v-1h-1v-3h1v-1h1zM492 89v3h3v-3zM494 88h3v1h1v1h1v3h-1v1h-1v1h-3v-1h-1v-1h-1v-3h1v-1h1zM494 90v3h3v-3zM495 88h3v1h1v1h1v3h-1v1h-1v1h-3v-1h-1v-1h-1v-3h1v-1h1zM495 90v3h3v-3zM496 88h3v1h1v1h1v3h-1v1h-1v1h-3v-1h-1v-1h-1v-3h1v-1h1zM496 90v3h3v-3zM497 88h3v1h1v1h1v3h-1v1h-1v1h-3v-1h-1v-1h-1v-3h1v-1h1zM497 90v3h3v-3zM499 88h3v1h1v1h1v3h-1v1h-1v1h-3v-1h-1v-1h-1v-3h1v-1h1zM499 90v3h3v-3zM500 88h3v1h1v1h1v3h-1v1h-1v1h-3v-1h-1v-1h-1v-3h1v-1h1zM500 90v3h3v-3zM501 88h3v1h1v1h1v3h-1v1h-1v1h-3v-1h-1v-1h-1v-3h1v-1h1zM501 90v3h3v-3zM503 88h3v1h1v1h1v3h-1v1h-1v1h-3v-1h-1v-1h-1v-3h1v-1h1zM503 90v3h3v-3zM504 88h3v1h1v1h1v3h-1v1h-1v1h-3v-1h-1v-1h-1v-3h1v-1h1zM504 90v3h3v-3zM505 88h3v1h1v1h1v3h-1v1h-1v1h-3v-1h-1v-1h-1v-3h1v-1h1zM505 90v3h3v-3zM507 88h3v1h1v1h1v3h-1v1h-1v1h-3v-1h-1v-1h-1v-3h1v-1h1zM507 90v3h3v-3zM508 89h3v1h1v1h1v3h-1v1h-1v1h-3v-1h-1v-1h-1v-3h1v-1h1zM508 91v3h3v-3zM509 89h3v1h1v1h1v3h-1v1h-1v1h-3v-1h-1v-1h-1v-3h1v-1h1zM509 91v3h3v-3zM511 89h3v1h1v1h1v3h-1v1h-1v1h-3v-1h-1v-1h-1v-3h1v-1h1zM511 91v3h3v-3zM512 89h3v1h1v1h1v3h-1v1h-1v1h-3v-1h-1v-1h-1v-3h1v-1h1zM512 91v3h3v-3zM513 89h3v1h1v1h1v3h-1v1h-1v1h-3v-1h-1v-1h-1v-3h1v-1h1zM513 91v3h3v-3zM514 89h3v1h1v1h1v3h-1v1h-1v1h-3v-1h-1v-1h-1v-3h1v-1h1zM514 91v3h3v-3zM516 89h3v1h1v1h1v3h-1v1h-1v1h-3v-1h-1v-1h-1v-3h1v-1h1zM516 91v3h3v-3zM517 89h3v1h1v1h1v3h-1v1h-1v1h-3v-1h-1v-1h-1v-3h1v-1h1zM517 91v3h3v-3zM518 89h3v1h1v1h1v3h-1v1h-1v1h-3v-1h-1v-1h-1v-3h1v-1h1zM518 91v3h3v-3zM520 89h3v1h1v1h1v3h-1v1h-1v1h-3v-1h-1v-1h-1v-3h1v-1h1zM520 91v3h3v-3zM521 90h3v1h1v1h1v3h-1v1h-1v1h-3v-1h-1v-1h-1v-3h1v-1h1zM521 92v3h3v-3zM522 90h3v1h1v1h1v3h-1v1h-1v1h-3v-1h-1v-1h-1v-3h1v-1h1zM522 92v3h3v-3zM524 90h3v1h1v1h1v3h-1v1h-1v1h-3v-1h-1v-1h-1v-3h1v-1h1zM524 92v3h3v-3zM525 90h3v1h1v1h1v3h-1v1h-1v1h-3v-1h-1v-1h-1v-3h1v-1h1zM525 92v3h3v-3zM526 90h3v1h1v1h1v3h-1v1h-1v1h-3v-1h-1v-1h-1v-3h1v-1h1zM526 92v3h3v-3zM527 90h3v1h1v1h1v3h-1v1h-1v1h-3v-1h-1v-1h-1v-3h1v-1h1zM527 92v3h3v-3zM529 91h3v1h1v1h1v3h-1v1h-1v1h-3v-1h-1v-1h-1v-3h1v-1h1zM529 93v3h3v-3zM530 91h3v1h1v1h1v3h-1v1h-1v1h-3v-1h-1v-1h-1v-3h1v-1h1zM530 93v3h3v-3zM531 91h3v1h1v1h1v3h-1v1h-1v1h-3v-1h-1v-1h-1v-3h1v-1h1zM531 93v3h3v-3zM533 91h3v1h1v1h1v3h-1v1h-1v1h-3v-1h-1v-1h-1v-3h1v-1h1zM533 93v3h3v-3zM534 91h3v1h1v1h1v3h-1v1h-1v1h-3v-1h-1v-1h-1v-3h1v-1h1zM534 93v3h3v-3zM535 91h3v1h1v1h1v3h-1v1h-1v1h-3v-1h-1v-1h-1v-3h1v-1h1zM535 93v3h3v-3zM537 91h3v1h1v1h1v3h-1v1h-1v1h-3v-1h-1v-1h-1v-3h1v-1h1zM537 93v3h3v-3zM538 92h3v1h1v1h1v3h-1v1h-1v1h-3v-1h-1v-1h-1v-3h1v-1h1zM538 94v3h3v-3zM539 92h3v1h1v1h1v3h-1v1h-1v1h-3v-1h-1v-1h-1v-3h1v-1h1zM539 94v3h3v-3zM541 92h3v1h1v1h1v3h-1v1h-1v1h-3v-1h-1v-1h-1v-3h1v-1h1zM541 94v3h3v-3zM542 92h3v1h1v1h1v3h-1v1h-1v1h-3v-1h-1v-1h-1v-3h1v-1h1zM542 94v3h3v-3zM543 92h3v1h1v1h1v3h-1v1h-1v1h-3v-1h-1v-1h-1v-3h1v-1h1zM543 94v3h3v-3zM544 92h3v1h1v1h1v3h-1v1h-1v1h-3v-1h-1v-1h-1v-3h1v-1h1zM544 94v3h3v-3zM546 92h3v1h1v1h1v3h-1v1h-1v1h-3v-1h-1v-1h-1v-3h1v-1h1zM546 94v3h3v-3zM547 93h3v1h1v1h1v3h-1v1h-1v1h-3v-1h-1v-1h-1v-3h1v-1h1zM547 95v3h3v-3zM548 93h3v1h1v1h1v3h-1v1h-1v1h-3v-1h-1v-1h-1v-3h1v-1h1zM548 95v3h3v-3zM550 93h3v1h1v1h1v3h-1v1h-1v1h-3v-1h-1v-1h-1v-3h1v-1h1zM550 95v3h3v-3zM551 93h3v1h1v1h1v3h-1v1h-1v1h-3v-1h-1v-1h-1v-3h1v-1h1zM551 95v3h3v-3zM552 93h3v1h1v1h1v3h-1v1h-1v1h-3v-1h-1v-1h-1v-3h1v-1h1zM552 95v3h3v-3zM554 94h3v1h1v1h1v3h-1v1h-1v1h-3v-1h-1v-1h-1v-3h1v-1h1zM554 96v3h3v-3zM555 94h3v1h1v1h1v3h-1v1h-1v1h-3v-1h-1v-1h-1v-3h1v-1h1zM555 96v3h3v-3zM556 94h3v1h1v1h1v3h-1v1h-1v1h-3v-1h-1v-1h-1v-3h1v-1h1zM556 96v3h3v-3zM557 95h3v1h1v1h1v3h-1v1h-1v1h-3v-1h-1v-1h-1v-3h1v-1h1zM557 97v3h3v-3zM559 95h3v1h1v1h1v3h-1v1h-1v1h-3v-1h-1v-1h-1v-3h1v-1h1zM559 97v3h3v-3zM560 96h3v1h1v1h1v3h-1v1h-1v1h-3v-1h-1v-1h-1v-3h1v-1h1zM560 98v3h3v-3zM561 97h3v1h1v1h1v3h-1v1h-1v1h-3v-1h-1v-1h-1v-3h1v-1h1zM561 99v3h3v-3zM563 97h3v1h1v1h1v3h-1v1h-1v1h-3v-1h-1v-1h-1v-3h1v-1h1zM563 99v3h3v-3zM564 98h3v1h1v1h1v3h-1v1h-1v1h-3v-1h-1v-1h-1v-3h1v-1h1zM564 100v3h3v-3zM565 98h3v1h1v1h1v3h-1v1h-1v1h-3v-1h-1v-1h-1v-3h1v-1h1zM565 100v3h3v-3zM566 98h3v1h1v1h1v3h-1v1h-1v1h-3v-1h-1v-1h-1v-3h1v-1h1zM566 100v3h3v-3zM568 99h3v1h1v1h1v3h-1v1h-1v1h-3v-1h-1v-1h-1v-3h1v-1h1zM568 101v3h3v-3zM569 99h3v1h1v1h1v3h-1v1h-1v1h-3v-1h-1v-1h-1v-3h1v-1h1zM569 101v3h3v-3zM571 101h3v1h1v1h1v3h-1v1h-1v1h-3v-1h-1v-1h-1v-3h1v-1h1zM571 103v3h3v-3zM572 102h3v1h1v1h1v3h-1v1h-1v1h-3v-1h-1v-1h-1v-3h1v-1h1zM572 104v3h3v-3zM573 402h3v1h1v1h1v3h-1v1h-1v1h-3v-1h-1v-1h-1v-3h1v-1h1zM573 404v3h3v-3zM574 405h3v1h1v1h1v3h-1v1h-1v1h-3v-1h-1v-1h-1v-3h1v-1h1zM574 407v3h3v-3zM576 405h3v1h1v1h1v3h-1v1h-1v1h-3v-1h-1v-1h-1v-3h1v-1h1zM576 407v3h3v-3zM577 405h3v1h1v1h1v3h-1v1h-1v1h-3v-1h-1v-1h-1v-3h1v-1h1zM577 407v3h3v-3zM578 405h3v1h1v1h1v3h-1v1h-1v1h-3v-1h-1v-1h-1v-3h1v-1h1zM578 407v3h3v-3zM580 405h3v1h1v1h1v3h-1v1h-1v1h-3v-1h-1v-1h-1v-3h1v-1h1zM580 407v3h3v-3zM581 405h3v1h1v1h1v3h-1v1h-1v1h-3v-1h-1v-1h-1v-3h1v-1h1zM581 407v3h3v-3zM582 406h3v1h1v1h1v3h-1v1h-1v1h-3v-1h-1v-1h-1v-3h1v-1h1zM582 408v3h3v-3zM584 407h3v1h1v1h1v3h-1v1h-1v1h-3v-1h-1v-1h-1v-3h1v-1h1zM584 409v3h3v-3zM585 407h3v1h1v1h1v3h-1v1h-1v1h-3v-1h-1v-1h-1v-3h1v-1h1zM585 409v3h3v-3zM586 408h3v1h1v1h1v3h-1v1h-1v1h-3v-1h-1v-1h-1v-3h1v-1h1zM586 410v3h3v-3zM587 408h3v1h1v1h1v3h-1v1h-1v1h-3v-1h-1v-1h-1v-3h1v-1h1zM587 410v3h3v-3zM589 408h3v1h1v1h1v3h-1v1h-1v1h-3v-1h-1v-1h-1v-3h1v-1h1zM589 410v3h3v-3zM590 409h3v1h1v1h1v3h-1v1h-1v1h-3v-1h-1v-1h-1v-3h1v-1h1zM590 411v3h3v-3zM591 409h3v1h1v1h1v3h-1v1h-1v1h-3v-1h-1v-1h-1v-3h1v-1h1zM591 411v3h3v-3zM593 409h3v1h1v1h1v3h-1v1h-1v1h-3v-1h-1v-1h-1v-3h1v-1h1zM593 411v3h3v-3zM594 409h3v1h1v1h1v3h-1v1h-1v1h-3v-1h-1v-1h-1v-3h1v-1h1zM594 411v3h3v-3zM595 410h3v1h1v1h1v3h-1v1h-1v1h-3v-1h-1v-1h-1v-3h1v-1h1zM595 412v3h3v-3zM597 410h3v1h1v1h1v3h-1v1h-1v1h-3v-1h-1v-1h-1v-3h1v-1h1zM597 412v3h3v-3zM598 410h3v1h1v1h1v3h-1v1h-1v1h-3v-1h-1v-1h-1v-3h1v-1h1zM598 412v3h3v-3zM599 410h3v1h1v1h1v3h-1v1h-1v1h-3v-1h-1v-1h-1v-3h1v-1h1zM599 412v3h3v-3zM601 411h3v1h1v1h1v3h-1v1h-1v1h-3v-1h-1v-1h-1v-3h1v-1h1zM601 413v3h3v-3zM602 411h3v1h1v1h1v3h-1v1h-1v1h-3v-1h-1v-1h-1v-3h1v-1h1zM602 413v3h3v-3zM603 411h3v1h1v1h1v3h-1v1h-1v1h-3v-1h-1v-1h-1v-3h1v-1h1zM603 413v3h3v-3zM604 411h3v1h1v1h1v3h-1v1h-1v1h-3v-1h-1v-1h-1v-3h1v-1h1zM604 413v3h3v-3zM606 411h3v1h1v1h1v3h-1v1h-1v1h-3v-1h-1v-1h-1v-3h1v-1h1zM606 413v3h3v-3zM607 411h3v1h1v1h1v3h-1v1h-1v1h-3v-1h-1v-1h-1v-3h1v-1h1zM607 413v3h3v-3zM608 411h3v1h1v1h1v3h-1v1h-1v1h-3v-1h-1v-1h-1v-3h1v-1h1zM608 413v3h3v-3zM610 412h3v1h1v1h1v3h-1v1h-1v1h-3v-1h-1v-1h-1v-3h1v-1h1zM610 414v3h3v-3zM611 412h3v1h1v1h1v3h-1v1h-1v1h-3v-1h-1v-1h-1v-3h1v-1h1zM611 414v3h3v-3zM612 412h3v1h1v1h1v3h-1v1h-1v1h-3v-1h-1v-1h-1v-3h1v-1h1zM612 414v3h3v-3zM614 412h3v1h1v1h1v3h-1v1h-1v1h-3v-1h-1v-1h-1v-3h1v-1h1zM614 414v3h3v-3zM615 413h3v1h1v1h1v3h-1v1h-1v1h-3v-1h-1v-1h-1v-3h1v-1h1zM615 415v3h3v-3zM616 413h3v1h1v1h1v3h-1v1h-1v1h-3v-1h-1v-1h-1v-3h1v-1h1zM616 415v3h3v-3zM618 413h3v1h1v1h1v3h-1v1h-1v1h-3v-1h-1v-1h-1v-3h1v-1h1zM618 415v3h3v-3zM619 414h3v1h1v1h1v3h-1v1h-1v1h-3v-1h-1v-1h-1v-3h1v-1h1zM619 416v3h3v-3zM620 415h3v1h1v1h1v3h-1v1h-1v1h-3v-1h-1v-1h-1v-3h1v-1h1zM620 417v3h3v-3zM621 416h3v1h1v1h1v3h-1v1h-1v1h-3v-1h-1v-1h-1v-3h1v-1h1zM621 418v3h3v-3zM623 416h3v1h1v1h1v3h-1v1h-1v1h-3v-1h-1v-1h-1v-3h1v-1h1zM623 418v3h3v-3zM624 417h3v1h1v1h1v3h-1v1h-1v1h-3v-1h-1v-1h-1v-3h1v-1h1zM624 419v3h3v-3zM625 417h3v1h1v1h1v3h-1v1h-1v1h-3v-1h-1v-1h-1v-3h1v-1h1zM625 419v3h3v-3zM627 417h3v1h1v1h1v3h-1v1h-1v1h-3v-1h-1v-1h-1v-3h1v-1h1zM627 419v3h3v-3zM628 418h3v1h1v1h1v3h-1v1h-1v1h-3v-1h-1v-1h-1v-3h1v-1h1zM628 420v3h3v-3zM629 419h3v1h1v1h1v3h-1v1h-1v1h-3v-1h-1v-1h-1v-3h1v-1h1zM629 421v3h3v-3zM631 419h3v1h1v1h1v3h-1v1h-1v1h-3v-1h-1v-1h-1v-3h1v-1h1zM631 421v3h3v-3zM632 420h3v1h1v1h1v3h-1v1h-1v1h-3v-1h-1v-1h-1v-3h1v-1h1zM632 422v3h3v-3zM633 420h3v1h1v1h1v3h-1v1h-1v1h-3v-1h-1v-1h-1v-3h1v-1h1zM633 422v3h3v-3zM634 420h3v1h1v1h1v3h-1v1h-1v1h-3v-1h-1v-1h-1v-3h1v-1h1zM634 422v3h3v-3zM636 420h3v1h1v1h1v3h-1v1h-1v1h-3v-1h-1v-1h-1v-3h1v-1h1zM636 422v3h3v-3zM638 421h3v1h1v1h1v3h-1v1h-1v1h-3v-1h-1v-1h-1v-3h1v-1h1zM638 423v3h3v-3zM639 422h3v1h1v1h1v3h-1v1h-1v1h-3v-1h-1v-1h-1v-3h1v-1h1zM639 424v3h3v-3zM640 423h3v1h1v1h1v3h-1v1h-1v1h-3v-1h-1v-1h-1v-3h1v-1h1zM640 425v3h3v-3zM641 427h3v1h1v1h1v3h-1v1h-1v1h-3v-1h-1v-1h-1v-3h1v-1h1zM641 429v3h3v-3zM643 431h3v1h1v1h1v3h-1v1h-1v1h-3v-1h-1v-1h-1v-3h1v-1h1zM643 433v3h3v-3zM644 432h3v1h1v1h1v3h-1v1h-1v1h-3v-1h-1v-1h-1v-3h1v-1h1zM644 434v3h3v-3zM645 433h3v1h1v1h1v3h-1v1h-1v1h-3v-1h-1v-1h-1v-3h1v-1h1zM645 435v3h3v-3zM647 437h3v1h1v1h1v3h-1v1h-1v1h-3v-1h-1v-1h-1v-3h1v-1h1zM647 439v3h3v-3zM648 441h3v1h1v1h1v3h-1v1h-1v1h-3v-1h-1v-1h-1v-3h1v-1h1zM648 443v3h3v-3zM649 454h3v1h1v1h1v3h-1v1h-1v1h-3v-1h-1v-1h-1v-3h1v-1h1zM649 456v3h3v-3z"/></g>
<rect x="95" y="339" width="556" height="2" fill="#0f0" shape-rendering="crispEdges"/>
<rect x="573" y="105" width="2" height="150" fill="#f00" shape-rendering="crispEdges"/>
<rect x="574" y="255" width="2" height="150" fill="#f00" shape-rendering="crispEdges"/>
<g class="lg">
<rect x="100.5" y="419.5" width="137" height="57" fill="#fff" stroke="#000" stroke-width="1" shape-rendering="crispEdges"/>
<path d="M125 426h3v1h1v1h1v3h-1v1h-1v1h-3v-1h-1v-1h-1v-3h1v-1h1zM125 428v3h3v-3z" fill="#000" fill-rule="nonzero" shape-rendering="crispEdges"/>
<rect x="107" y="446" width="38" height="2" fill="#0f0" shape-rendering="crispEdges"/>
<rect x="107" y="464" width="38" height="2" fill="#f00" shape-rendering="crispEdges"/>
<text x="148.5" y="436" style="word-spacing:-1px">singular values</text>
<text x="148.7" y="454">tolerance</text>
<text x="148.3" y="472">gap</text>
</g>
<text x="371.5" y="33" text-anchor="middle" style="word-spacing:-1px">Meszaros/aa4 singular values</text>
<text class="tk" x="94.8" y="497" text-anchor="middle">0</text><text class="tk" x="159.8" y="497" text-anchor="middle">50</text><text class="tk" x="224.8" y="497" text-anchor="middle">100</text><text class="tk" x="290.8" y="497" text-anchor="middle">150</text><text class="tk" x="355.8" y="497" text-anchor="middle">200</text><text class="tk" x="420.8" y="497" text-anchor="middle">250</text><text class="tk" x="486.8" y="497" text-anchor="middle">300</text><text class="tk" x="551.8" y="497" text-anchor="middle">350</text><text class="tk" x="616.8" y="497" text-anchor="middle">400</text>
<text class="tk" x="64.4" y="106" style="letter-spacing:0.2px">10</text><text class="ex" x="76.5" y="97">0</text><text class="tk" x="64.4" y="222" style="letter-spacing:0.2px">10</text><text class="ex" x="76.5" y="213">-5</text><text class="tk" x="64.4" y="338" style="letter-spacing:0.2px">10</text><text class="ex" x="76.5" y="329">-10</text><text class="tk" x="64.4" y="454" style="letter-spacing:0.2px">10</text><text class="ex" x="76.5" y="445">-15</text>
</svg>
</body></html>
